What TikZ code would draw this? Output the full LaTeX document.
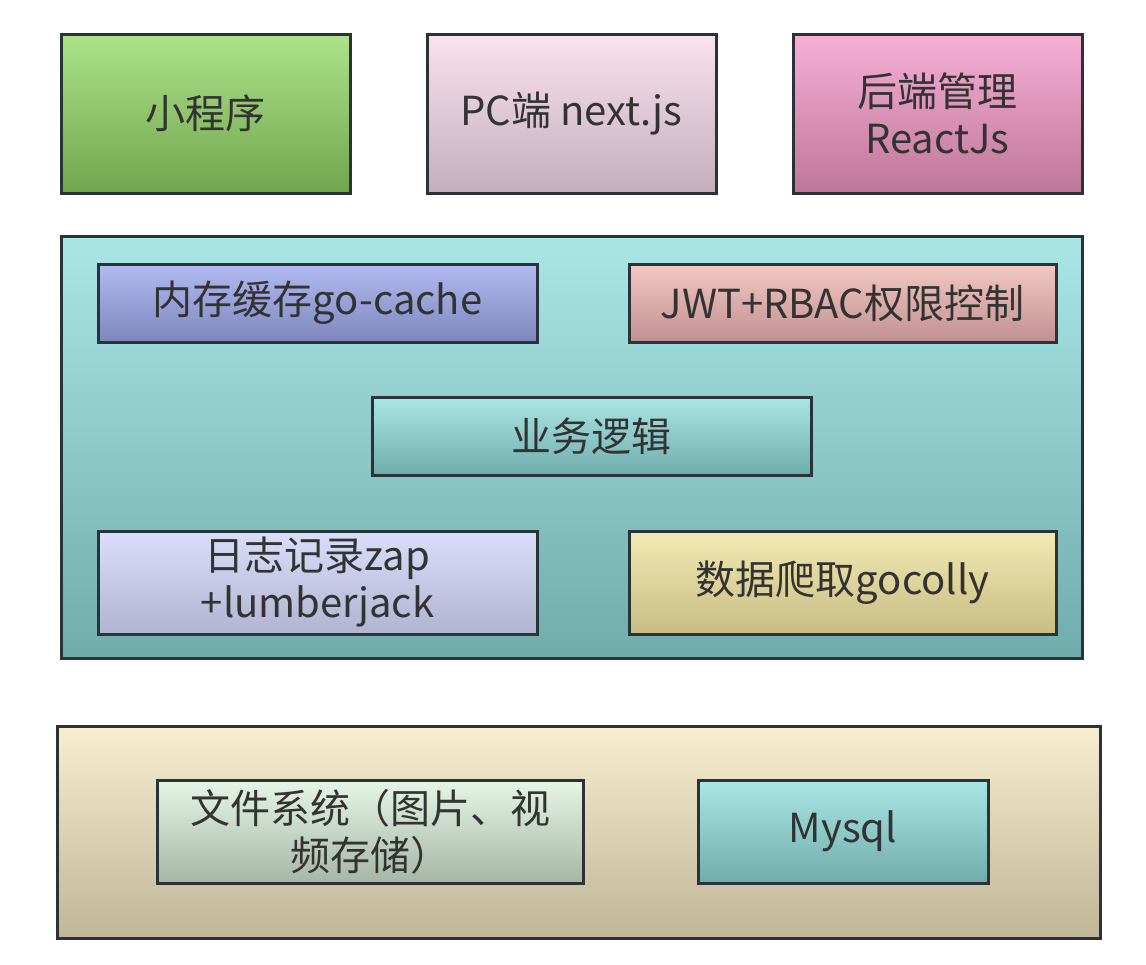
\documentclass[tikz,border=0pt]{standalone}
\usepackage{fontspec}
\setmainfont{Noto Sans CJK SC}
\begin{document}
\begin{tikzpicture}[x=1pt,y=-1pt,
  box/.style={draw=bordc, line width=3pt, shading=axis, text=txtc, align=center,
    font=\fontsize{40}{47}\selectfont, inner sep=0pt},
  sz/.style 2 args={minimum width=#1pt, minimum height=#2pt}]
\definecolor{bordc}{HTML}{2B3238}
\definecolor{txtc}{HTML}{333333}
\useasboundingbox (0,0) rectangle (1146,964);
% top row
\node[box, sz={289}{159}, top color={rgb,255:red,172;green,226;blue,138}, bottom color={rgb,255:red,114;green,166;blue,78}] (mini) at (205.5,113.5) {小程序};
\node[box, sz={289}{159}, top color={rgb,255:red,250;green,226;blue,238}, bottom color={rgb,255:red,196;green,174;blue,188}] (pc) at (571.5,113.5) {PC端 next.js};
\node[box, sz={289}{159}, top color={rgb,255:red,246;green,176;blue,214}, bottom color={rgb,255:red,190;green,118;blue,152}] (admin) at (937.5,113.5) {后端管理\\ReactJs};
% middle container
\node[box, sz={1021}{422}, top color={rgb,255:red,170;green,230;blue,230}, bottom color={rgb,255:red,112;green,172;blue,172}] (server) at (571.5,447) {};
\node[box, sz={439}{78}, top color={rgb,255:red,178;green,186;blue,242}, bottom color={rgb,255:red,126;green,134;blue,190}] (cache) at (317.5,303) {内存缓存go-cache};
\node[box, sz={427}{78}, top color={rgb,255:red,242;green,200;blue,194}, bottom color={rgb,255:red,192;green,144;blue,144}] (jwt) at (842.5,303) {JWT+RBAC权限控制};
\node[box, sz={439}{78}, top color={rgb,255:red,170;green,230;blue,230}, bottom color={rgb,255:red,112;green,172;blue,172}] (biz) at (591.5,436) {业务逻辑};
\node[box, sz={439}{103}, top color={rgb,255:red,218;green,222;blue,250}, bottom color={rgb,255:red,176;green,180;blue,208}] (log) at (317.5,582.5) {日志记录zap\\+lumberjack};
\node[box, sz={427}{103}, top color={rgb,255:red,242;green,234;blue,180}, bottom color={rgb,255:red,200;green,188;blue,130}] (crawl) at (842.5,582.5) {数据爬取gocolly};
% bottom container
\node[box, sz={1043}{212}, top color={rgb,255:red,246;green,238;blue,206}, bottom color={rgb,255:red,190;green,182;blue,150}] (store) at (578.5,832) {};
\node[box, sz={426}{103}, top color={rgb,255:red,230;green,246;blue,230}, bottom color={rgb,255:red,166;green,182;blue,166}] (fs) at (370,831.5) {文件系统（图片、视\\频存储）};
\node[box, sz={290}{103}, top color={rgb,255:red,170;green,230;blue,230}, bottom color={rgb,255:red,112;green,172;blue,172}] (mysql) at (843,831.5) {Mysql};
\end{tikzpicture}
\end{document}
